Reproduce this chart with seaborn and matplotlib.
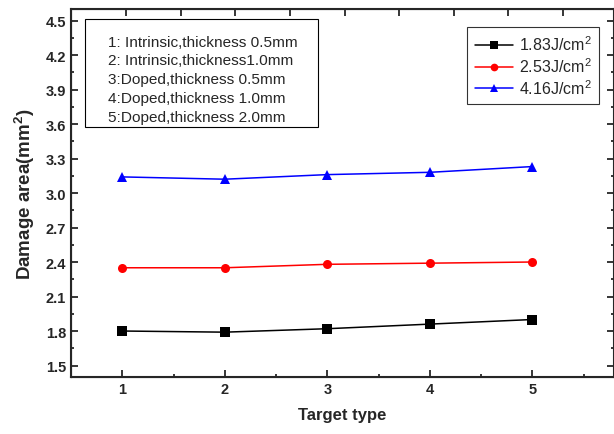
import numpy as np
import pandas as pd
import matplotlib
matplotlib.use("Agg")
import matplotlib.pyplot as plt
import seaborn as sns
from matplotlib.ticker import MultipleLocator
from matplotlib.patches import Rectangle

# Data
target_type = [1, 2, 3, 4, 5]
fluence_labels = ["1.83J/cm$^2$", "2.53J/cm$^2$", "4.16J/cm$^2$"]
area_183 = [1.80, 1.79, 1.82, 1.86, 1.90]
area_253 = [2.35, 2.35, 2.38, 2.39, 2.40]
area_416 = [3.14, 3.12, 3.16, 3.18, 3.23]
target_notes = [
    "1: Intrinsic,thickness 0.5mm",
    "2: Intrinsic,thickness1.0mm",
    "3:Doped,thickness 0.5mm",
    "4:Doped,thickness 1.0mm",
    "5:Doped,thickness 2.0mm",
]

df = pd.DataFrame({
    "Target type": target_type * 3,
    "Damage area": area_183 + area_253 + area_416,
    "Fluence": [fluence_labels[0]] * 5 + [fluence_labels[1]] * 5 + [fluence_labels[2]] * 5,
})

sns.set_style("ticks")
plt.rcParams["font.family"] = ["Liberation Sans", "DejaVu Sans"]
plt.rcParams["mathtext.fontset"] = "custom"
plt.rcParams["mathtext.rm"] = "Liberation Sans"
plt.rcParams["mathtext.it"] = "Liberation Sans"
plt.rcParams["mathtext.bf"] = "Liberation Sans:bold"

fig = plt.figure(figsize=(6.14, 4.35), dpi=100)
ax = fig.add_axes([0.1156, 0.131, 0.885, 0.846])

sns.lineplot(data=df, x="Target type", y="Damage area", hue="Fluence", style="Fluence",
             palette=["black", "red", "blue"], markers=["s", "o", "^"], dashes=False,
             markersize=6.5, markeredgewidth=0, linewidth=1.1, ax=ax)

ax.set_xlim(0.5, 5.8)
ax.set_ylim(1.4, 4.6)
ax.xaxis.set_major_locator(MultipleLocator(1))
ax.xaxis.set_minor_locator(MultipleLocator(0.5))
ax.yaxis.set_minor_locator(MultipleLocator(0.15))
ax.set_yticks(np.arange(1.5, 4.55, 0.3))
ax.set_yticklabels([f"{v:.1f}" for v in np.arange(1.5, 4.55, 0.3)])
ax.tick_params(which="both", direction="in", left=True, right=True, bottom=True, top=False,
               width=1.3, labelsize=10.5)
ax.tick_params(which="major", length=5)
ax.tick_params(which="minor", length=2.5)
for lbl in ax.get_xticklabels() + ax.get_yticklabels():
    lbl.set_fontweight("bold")
for sp in ax.spines.values():
    sp.set_linewidth(1.5)

# top axis ticks (unlabelled, Origin-style spacing)
top = ax.twiny()
top.set_xlim(ax.get_xlim())
top.set_xticks(np.arange(1.04, 5.8, 0.532))
top.xaxis.set_minor_locator(plt.NullLocator())
top.tick_params(direction="in", length=5, width=1.3, labeltop=False)

ax.set_xlabel("Target type", fontsize=12, fontweight="bold", labelpad=8)
ax.set_ylabel("Damage area(mm$^\\mathbf{2}$)", fontsize=13.5, fontweight="bold", labelpad=6)

leg = ax.legend(loc="upper right", bbox_to_anchor=(0.972, 0.95), fontsize=11.5, frameon=True,
                fancybox=False, edgecolor="black", handlelength=2.4, borderpad=0.45,
                labelspacing=0.2, handletextpad=0.4, markerscale=0.85, borderaxespad=0)
leg.get_frame().set_linewidth(0.8)

# text box with target type descriptions
ax.add_patch(Rectangle((0.026, 0.679), 0.429, 0.294, transform=ax.transAxes,
                       facecolor="white", edgecolor="black", linewidth=0.8, zorder=4))
ax.text(0.068, 0.93, "\n".join(target_notes), transform=ax.transAxes, fontsize=11.1,
        va="top", ha="left", linespacing=1.43, zorder=5)

fig.savefig("out.png", dpi=100)
